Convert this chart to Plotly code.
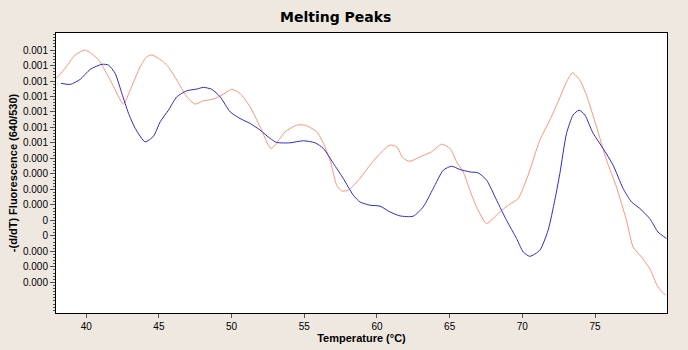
import numpy as np
import plotly.graph_objects as go

# Temperature (°C) and -(d/dT) fluorescence values (in units of 1e-4)
orange_temp = [37.94, 38.56, 39.24, 39.93, 40.74, 40.96, 41.77, 42.56, 43.02, 43.71, 44.17, 44.52,
               45.31, 45.64, 46.23, 46.92, 47.49, 48.04, 48.73, 49.33, 50.01, 50.58, 51.27, 51.96,
               52.71, 53.33, 53.68, 54.48, 55.05, 55.86, 56.31, 56.77, 57.23, 57.57, 58.03, 58.83,
               59.52, 60.21, 60.89, 61.35, 61.81, 62.27, 62.96, 63.76, 64.45, 65.02, 65.48, 65.93,
               66.39, 66.85, 67.54, 68.45, 69.14, 69.71, 70.40, 71.20, 71.89, 72.46, 73.04, 73.45,
               73.95, 74.41, 75.10, 75.79, 76.47, 77.16, 77.62, 78.19, 78.76, 79.33, 79.86]
orange_e4 = [10.17, 10.84, 11.68, 12.00, 11.48, 11.22, 9.85, 8.51, 9.41, 10.92, 11.57, 11.68,
             11.24, 10.92, 10.06, 8.98, 8.51, 8.72, 8.83, 9.09, 9.46, 9.20, 8.33, 7.04,
             5.64, 6.29, 6.72, 7.15, 7.15, 6.72, 5.97, 4.89, 3.27, 2.90, 2.95, 3.71,
             4.57, 5.32, 5.86, 5.75, 5.00, 4.82, 5.10, 5.43, 5.92, 5.65, 4.78, 4.13,
             2.95, 1.87, 0.80, 1.55, 2.05, 2.41, 3.92, 6.18, 7.48, 8.66, 9.95, 10.53,
             10.06, 9.09, 7.04, 4.89, 3.16, 1.01, -0.72, -1.36, -2.11, -3.30, -3.84]

blue_temp = [38.26, 38.90, 39.59, 40.27, 41.08, 41.53, 41.99, 42.45, 42.91, 43.37, 44.05, 44.63,
             45.09, 45.66, 46.23, 46.92, 47.61, 48.06, 48.64, 49.21, 49.90, 50.58, 51.27, 51.96,
             52.65, 53.11, 54.02, 54.94, 55.74, 56.31, 57.00, 57.68, 58.37, 58.83, 59.52, 60.21,
             60.89, 61.58, 62.49, 63.18, 63.87, 64.56, 65.13, 65.70, 66.39, 66.96, 67.54, 68.23,
             68.91, 69.60, 70.06, 70.52, 71.20, 71.77, 72.23, 72.58, 73.04, 73.49, 73.90, 74.30,
             74.87, 75.55, 76.24, 76.93, 77.51, 78.08, 78.76, 79.33, 79.91]
blue_e4 = [9.85, 9.78, 10.11, 10.75, 11.08, 11.03, 10.49, 9.20, 7.91, 6.94, 6.07, 6.44,
           7.37, 8.12, 8.98, 9.37, 9.48, 9.59, 9.46, 8.98, 8.01, 7.58, 7.26, 6.83,
           6.29, 6.03, 6.01, 6.14, 6.01, 5.65, 4.68, 3.71, 2.63, 2.19, 1.98, 1.92,
           1.55, 1.29, 1.27, 1.87, 3.06, 4.24, 4.50, 4.29, 4.13, 4.07, 3.60, 2.30,
           1.01, -0.17, -1.04, -1.32, -0.93, 0.36, 2.30, 4.03, 6.62, 7.80, 8.12, 7.80,
           6.62, 5.65, 4.57, 3.06, 2.19, 1.77, 1.12, 0.25, -0.17]

y_tick_e4 = [12, 11, 10, 9, 8, 7, 6, 5, 4, 3, 2, 1, 0, -1, -2, -3]
y_tick_text = ["0.001"] * 7 + ["0.000"] * 4 + ["0"] * 2 + ["0.000"] * 3
x_ticks = [40, 45, 50, 55, 60, 65, 70, 75]

SCALE = 1e-4
orange_y = np.array(orange_e4) * SCALE
blue_y = np.array(blue_e4) * SCALE

fig = go.Figure()
fig.add_trace(go.Scatter(x=orange_temp, y=orange_y, mode="lines",
                         line=dict(color="#FF9473", width=1, shape="spline", smoothing=0.6),
                         showlegend=False, hoverinfo="skip"))
fig.add_trace(go.Scatter(x=blue_temp, y=blue_y, mode="lines",
                         line=dict(color="#2A2AD8", width=1, shape="spline", smoothing=0.6),
                         showlegend=False, hoverinfo="skip"))

tick_font = dict(family="Liberation Sans, Arial, sans-serif", size=10, color="black")
title_font = dict(family="Liberation Sans, Arial, sans-serif", size=11, color="black")

fig.update_layout(
    width=688, height=350,
    paper_bgcolor="rgb(238,232,224)",
    plot_bgcolor="white",
    margin=dict(l=56, r=21, t=33, b=37, autoexpand=False),
    title=dict(text="<b>Melting Peaks</b>", x=0.488, xanchor="center", y=1 - 17 / 350,
               yanchor="middle", yref="container",
               font=dict(family="DejaVu Sans, sans-serif", size=14, color="black")),
    xaxis=dict(range=[37.92, 79.95], tickvals=x_ticks, ticks="outside", ticklen=4,
               tickcolor="#555", showgrid=False, zeroline=False, showline=True,
               linecolor="black", linewidth=1, mirror=True, tickfont=tick_font,
               title=dict(text="<b>Temperature (°C)</b>", font=title_font, standoff=2)),
    yaxis=dict(range=[-4.98 * SCALE, 13.10 * SCALE],
               tickvals=[v * SCALE for v in y_tick_e4], ticktext=y_tick_text,
               ticks="outside", ticklen=5, tickcolor="#555", showgrid=False,
               zeroline=False, showline=True, linecolor="black", linewidth=1, mirror=True,
               tickfont=tick_font,
               minor=dict(ticks="outside", ticklen=2, tickcolor="#555", dtick=0.2 * SCALE,
                          tick0=0, showgrid=False),
               title=dict(text="<b>-(d/dT) Fluorescence (640/530)</b>", font=title_font,
                          standoff=3)),
)

fig.write_html("out.html")
